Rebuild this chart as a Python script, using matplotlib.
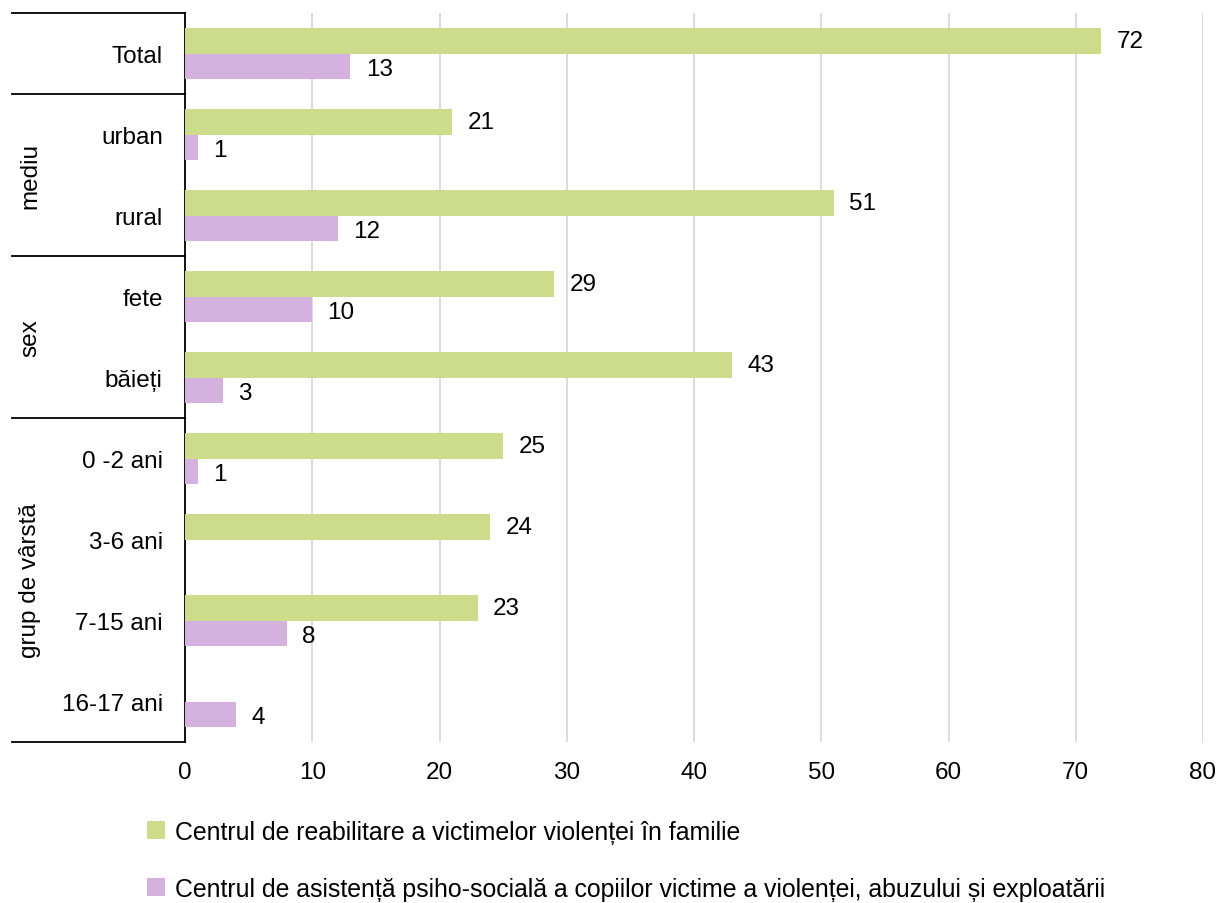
import matplotlib
matplotlib.use("Agg")
import matplotlib.pyplot as plt
from matplotlib.patches import Rectangle
from matplotlib.lines import Line2D
import numpy as np

plt.rcParams['font.family'] = ['Liberation Sans', 'DejaVu Sans']

categories = ["Total", "urban", "rural", "fete", "băieți", "0 -2 ani", "3-6 ani", "7-15 ani", "16-17 ani"]
reabilitare = [72, 21, 51, 29, 43, 25, 24, 23, None]
asistenta = [13, 1, 12, 10, 3, 1, None, 8, 4]
series_names = ["Centrul de reabilitare a victimelor violenței în familie",
                "Centrul de asistență psiho-socială a copiilor victime a violenței, abuzului și exploatării"]
groups = [("mediu", 1, 2), ("sex", 3, 4), ("grup de vârstă", 5, 8)]
xticks = [0, 10, 20, 30, 40, 50, 60, 70, 80]

green = "#CDDC8A"
purple = "#D5B1DF"
fs = 17.5

W, H = 1221, 904
fig = plt.figure(figsize=(W/100, H/100), dpi=100)
L, R, T, B = 185, 1203, 14, 743
ax = fig.add_axes([L/W, 1-B/H, (R-L)/W, (B-T)/H])

n = len(categories)
y = np.arange(n)
h = 0.315
for i in range(n):
    if reabilitare[i] is not None:
        ax.barh(y[i]-h/2, reabilitare[i], height=h, color=green, zorder=3)
        ax.text(reabilitare[i]+1.2, y[i]-h/2, str(reabilitare[i]), va='center', ha='left', fontsize=fs)
    if asistenta[i] is not None:
        ax.barh(y[i]+h/2, asistenta[i], height=h, color=purple, zorder=3)
        ax.text(asistenta[i]+1.2, y[i]+h/2+0.03, str(asistenta[i]), va='center', ha='left', fontsize=fs)

ax.set_ylim(n-0.5, -0.5)
ax.set_xlim(0, 80)
ax.set_xticks(xticks)
ax.set_xticklabels([str(t) for t in xticks], fontsize=fs)
ax.set_yticks(y)
ax.set_yticklabels(categories, fontsize=fs)
ax.tick_params(axis='y', length=0, pad=16)
ax.tick_params(axis='x', length=0, pad=14)
ax.xaxis.grid(True, color='#D9D9D9', linewidth=1.3, zorder=0)
ax.set_axisbelow(True)
for s in ['top', 'right', 'bottom']:
    ax.spines[s].set_visible(False)
ax.spines['left'].set_color('black')
ax.spines['left'].set_linewidth(1.3)

trans = ax.get_yaxis_transform()
x_left = (12 - L) / (R - L)
bounds = [-0.5, 0.5, 2.5, 4.5, 8.5]
for b in bounds:
    ax.add_line(Line2D([x_left, 0], [b, b], transform=trans, color='black', lw=1.3, clip_on=False))
xg = (30 - L) / (R - L)
for name, a, b in groups:
    ax.text(xg, (a+b)/2, name, rotation=90, va='center', ha='center', fontsize=fs, transform=trans)

for k, (name, col) in enumerate(zip(series_names, [green, purple])):
    yc = 831 + k*57
    fig.patches.append(Rectangle((147/W, 1-(yc+9)/H), 18/W, 18/H, transform=fig.transFigure,
                                 facecolor=col, edgecolor='none'))
    fig.text(175/W, 1-(yc+2)/H, name, va='center', ha='left', fontsize=17.95)

fig.savefig("out.png", dpi=100)
